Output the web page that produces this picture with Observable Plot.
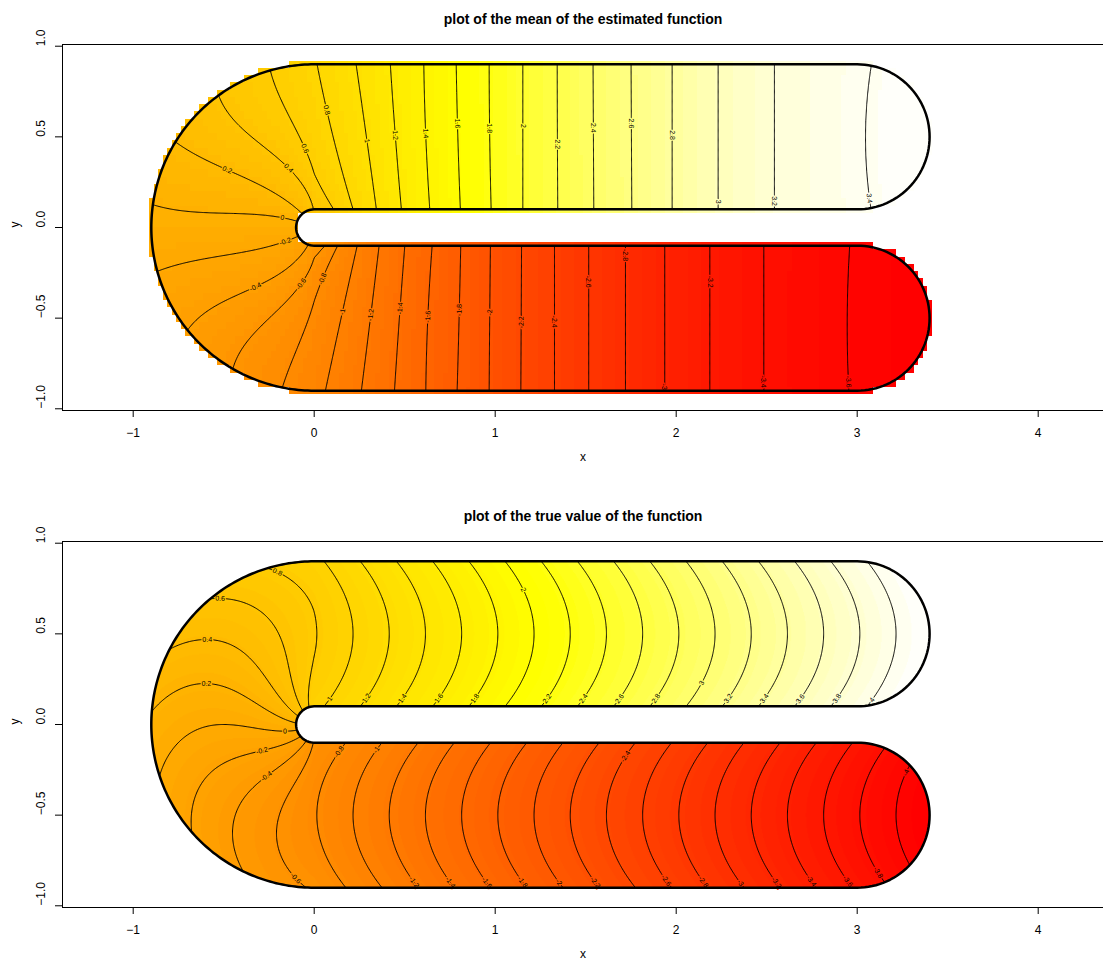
<!DOCTYPE html>
<html><head><meta charset="utf-8">
<script src="https://cdn.jsdelivr.net/npm/d3@7"></script>
<script src="https://cdn.jsdelivr.net/npm/@observablehq/plot@0.6"></script>
<style>
body{margin:0;background:#fff;}
#wrap{width:1103px;}
#wrap svg{display:block;}
</style></head><body><div id="wrap"></div>
<script>
// ---------- horseshoe domain (centre-line radius, inner radius, arm length) ----------
const R0 = 0.1, RC = 0.5, ARM = 3;
const HALF = RC - R0;
const Q = Math.PI * RC / 2;

// ---------- axis ticks ----------
const xTicks = [-1, 0, 1, 2, 3, 4];
const xTickLabels = ["\u22121", "0", "1", "2", "3", "4"];
const yTicks = [-1, -0.5, 0, 0.5, 1];
const yTickLabels = ["\u22121.0", "\u22120.5", "0.0", "0.5", "1.0"];

// ---------- estimated surface: level and along-curve position of each contour
// at the outer edge, on the centre line and at the inner edge
const estLevels = [-3.75, -3.6, -3.4, -3.2, -3.0, -2.8, -2.6, -2.4, -2.2, -2.0, -1.8, -1.6, -1.4, -1.2, -1.0, -0.8, -0.6, -0.4, -0.2, 0, 0.2, 0.4, 0.6, 0.8, 1.0, 1.2, 1.4, 1.6, 1.8, 2.0, 2.2, 2.4, 2.6, 2.8, 3.0, 3.2, 3.4, 3.49];
const estOuter  = [-4.185, -3.739, -3.269, -2.971, -2.722, -2.505, -2.302, -2.113, -1.927, -1.752, -1.575, -1.402, -1.229, -1.046, -0.847, -0.687, -0.524, -0.340, -0.136, 0.070, 0.276, 0.472, 0.649, 0.801, 1.017, 1.206, 1.391, 1.570, 1.752, 1.938, 2.128, 2.326, 2.536, 2.763, 3.017, 3.328, 3.864, 4.185];
const estCentre = [-4.185, -3.730, -3.269, -2.971, -2.722, -2.505, -2.302, -2.113, -1.929, -1.755, -1.586, -1.413, -1.256, -1.096, -0.934, -0.756, -0.576, -0.380, -0.153, 0.079, 0.305, 0.515, 0.707, 0.890, 1.074, 1.234, 1.402, 1.579, 1.755, 1.938, 2.129, 2.328, 2.538, 2.763, 3.017, 3.328, 3.831, 4.185];
const estInner  = [-4.185, -3.744, -3.269, -2.971, -2.722, -2.505, -2.302, -2.113, -1.931, -1.759, -1.595, -1.437, -1.286, -1.144, -1.023, -0.915, -0.847, -0.620, -0.249, 0.178, 0.427, 0.768, 0.893, 1.000, 1.129, 1.267, 1.424, 1.593, 1.763, 1.938, 2.131, 2.330, 2.540, 2.763, 3.017, 3.328, 3.862, 4.185];
const estContours = [-3.6, -3.4, -3.2, -3.0, -2.8, -2.6, -2.4, -2.2, -2.0, -1.8, -1.6, -1.4, -1.2, -1.0, -0.8, -0.6, -0.4, -0.2, 0, 0.2, 0.4, 0.6, 0.8, 1.0, 1.2, 1.4, 1.6, 1.8, 2.0, 2.2, 2.4, 2.6, 2.8, 3.0, 3.2, 3.4];
const estRange = [-3.75, 3.49];
const estLabLevel = [0.8, 1, 1.2, 1.4, 1.6, 1.8, 2, 2.2, 2.4, 2.6, 2.8, 3, 3.2, 3.4, 0.6, 0.4, 0.2, 0, -0.2, -0.4, -0.6, -0.8, -1, -1.2, -1.4, -1.6, -1.8, -2, -2.2, -2.4, -2.6, -2.8, -3, -3.2, -3.4, -3.6];
const estLabX = [0.068, 0.289, 0.449, 0.615, 0.790, 0.970, 1.153, 1.344, 1.543, 1.751, 1.978, 2.232, 2.543, 3.068, -0.048, -0.159, -0.481, -0.177, -0.164, -0.334, -0.088, 0.062, 0.155, 0.311, 0.473, 0.630, 0.803, 0.970, 1.144, 1.328, 1.521, 1.720, 1.935, 2.186, 2.484, 2.954];
const estLabY = [0.648, 0.477, 0.510, 0.519, 0.574, 0.547, 0.560, 0.459, 0.550, 0.574, 0.510, 0.142, 0.146, 0.161, 0.437, 0.308, 0.317, 0.045, -0.065, -0.308, -0.299, -0.289, -0.464, -0.482, -0.446, -0.492, -0.455, -0.468, -0.523, -0.519, -0.299, -0.152, -0.878, -0.299, -0.850, -0.850];

// ---------- true surface: same description ----------
const trueLevels = [-4.185, -4.0, -3.8, -3.6, -3.4, -3.2, -3.0, -2.8, -2.6, -2.4, -2.2, -2.0, -1.8, -1.6, -1.4, -1.2, -1.0, -0.8, -0.6, -0.4, -0.2, 0, 0.2, 0.4, 0.6, 0.8, 1.0, 1.2, 1.4, 1.6, 1.8, 2.0, 2.2, 2.4, 2.6, 2.8, 3.0, 3.2, 3.4, 3.6, 3.8, 4.0, 4.185];
const trueCentre = [-4.185, -4.0, -3.8, -3.6, -3.4, -3.2, -3.0, -2.8, -2.6, -2.4, -2.2, -2.0, -1.8, -1.6, -1.4, -1.2, -1.0, -0.8, -0.6, -0.4, -0.2, 0, 0.2, 0.4, 0.6, 0.8, 1.0, 1.2, 1.4, 1.6, 1.8, 2.0, 2.2, 2.4, 2.6, 2.8, 3.0, 3.2, 3.4, 3.6, 3.8, 4.0, 4.185];
const trueEdge = [-4.345, -4.16, -3.96, -3.76, -3.56, -3.36, -3.16, -2.96, -2.76, -2.56, -2.36, -2.16, -1.96, -1.76, -1.56, -1.36, -1.16, -0.96, -0.76, -0.56, -0.36, -0.16, 0.04, 0.24, 0.44, 0.64, 0.84, 1.04, 1.24, 1.44, 1.64, 1.84, 2.04, 2.24, 2.44, 2.64, 2.84, 3.04, 3.24, 3.44, 3.64, 3.84, 4.025];
const trueContours = [-4.0, -3.8, -3.6, -3.4, -3.2, -3.0, -2.8, -2.6, -2.4, -2.2, -2.0, -1.8, -1.6, -1.4, -1.2, -1.0, -0.8, -0.6, -0.4, -0.2, 0, 0.2, 0.4, 0.6, 0.8, 1.0, 1.2, 1.4, 1.6, 1.8, 2.0, 2.2, 2.4, 2.6, 2.8, 3.0, 3.2, 3.4, 3.6, 3.8, 4.0];
const trueRange = [-4.17, 4.17];
const trueLabLevel = [1, 1.2, 1.4, 1.6, 1.8, 2, 2.2, 2.4, 2.6, 2.8, 3, 3.2, 3.4, 3.6, 3.8, 4, 0.8, 0.6, 0.4, 0.2, 0, -0.2, -0.4, -0.6, -0.8, -1, -1.2, -1.4, -1.6, -1.8, -2, -2.2, -2.4, -2.6, -2.8, -3, -3.2, -3.4, -3.6, -3.8, -4];
const trueLabX = [0.081, 0.289, 0.486, 0.688, 0.886, 1.158, 1.283, 1.486, 1.683, 1.886, 2.144, 2.285, 2.484, 2.681, 2.886, 3.083, -0.208, -0.520, -0.591, -0.596, -0.162, -0.287, -0.263, -0.103, 0.136, 0.344, 0.541, 0.744, 0.947, 1.140, 1.343, 1.545, 1.720, 1.935, 2.138, 2.351, 2.548, 2.742, 2.945, 3.110, 3.276];
const trueLabY = [0.145, 0.145, 0.145, 0.145, 0.145, 0.744, 0.145, 0.145, 0.145, 0.145, 0.228, 0.145, 0.145, 0.145, 0.145, 0.136, 0.830, 0.689, 0.462, 0.219, -0.042, -0.149, -0.287, -0.849, -0.149, -0.140, -0.877, -0.877, -0.877, -0.877, -0.877, -0.877, -0.177, -0.867, -0.877, -0.877, -0.877, -0.867, -0.867, -0.820, -0.269];

// ---------- helpers ----------
function toSD(x, y) {
  if (x >= 0) return y > 0 ? [Q + x, y - RC] : [-Q - x, -RC - y];
  return [-Math.atan(y / x) * RC, Math.hypot(x, y) - RC];
}
// tOut: how far outside the outer edge a grid cell centre may lie
function inDomain(x, y, tOut = 1e-6) {
  const d = toSD(x, y)[1];
  if (d > HALF + tOut || d < -HALF - 1e-6) return false;
  if (x > ARM && (x - ARM) ** 2 + d * d > (HALF + tOut) ** 2) return false;
  return true;
}
function makeField(levels, outer, centre, inner) {
  const n = levels.length;
  const b = levels.map((_, i) => (outer[i] - inner[i]) / (2 * HALF));
  const c = levels.map((_, i) => (outer[i] + inner[i] - 2 * centre[i]) / (2 * HALF * HALF));
  const F = (s, d) => {
    let prev = centre[0] + b[0] * d + c[0] * d * d;
    if (s <= prev) return levels[0];
    for (let i = 1; i < n; i++) {
      const Si = centre[i] + b[i] * d + c[i] * d * d;
      if (s <= Si) return levels[i - 1] + (s - prev) / (Si - prev) * (levels[i] - levels[i - 1]);
      prev = Si;
    }
    return levels[n - 1];
  };
  return (x, y) => { const [s, d] = toSD(x, y); return F(s, d); };
}
function placeLabel(val, L, x, y) {
  const h = 1e-4;
  const grad = (x, y) => [(val(x + h, y) - val(x - h, y)) / (2 * h), (val(x, y + h) - val(x, y - h)) / (2 * h)];
  for (let k = 0; k < 8; k++) {
    const f = val(x, y) - L;
    const [gx, gy] = grad(x, y);
    const g2 = gx * gx + gy * gy;
    if (!(g2 > 0)) break;
    const nx = x - f * gx / g2, ny = y - f * gy / g2;
    if (Math.hypot(nx - x, ny - y) > 0.1) break;
    x = nx; y = ny;
  }
  const [gx, gy] = grad(x, y);
  let a = Math.atan2(-gx, -gy) * 180 / Math.PI;
  while (a > 90) a -= 180;
  while (a <= -90) a += 180;
  return {x, y, level: L, text: String(L), angle: a};
}
function heatColor(k) {
  if (k < 75) return `rgb(255,${Math.round(255 * k / 74)},0)`;
  const s = 0.98 - 0.04 * (k - 75);
  return `rgb(255,255,${Math.round(255 * (1 - s))})`;
}
const heat100 = t => heatColor(Math.max(0, Math.min(99, Math.floor(t * 100))));

// boundary of the domain (closed loop)
function arc(cx, cy, rad, a0, a1, n) {
  const pts = [];
  for (let i = 0; i <= n; i++) {
    const a = a0 + (a1 - a0) * i / n;
    pts.push({x: cx + rad * Math.cos(a), y: cy + rad * Math.sin(a)});
  }
  return pts;
}
const PI = Math.PI;
const boundary = [
  {x: 0, y: RC + HALF}, {x: ARM, y: RC + HALF},
  ...arc(ARM, RC, HALF, PI / 2, -PI / 2, 60),
  {x: 0, y: R0},
  ...arc(0, 0, R0, PI / 2, 3 * PI / 2, 30),
  {x: ARM, y: -R0},
  ...arc(ARM, -RC, HALF, PI / 2, -PI / 2, 60),
  {x: 0, y: -RC - HALF},
  ...arc(0, 0, RC + HALF, 3 * PI / 2, PI / 2, 160)
];

const xDomain = [-1.3906, 4.3608];
const yDomain = [-1.0094, 1.0094];
const FONT = "'Liberation Sans', Arial, Helvetica, sans-serif";

function panel(cfg) {
  const val = makeField(cfg.levels, cfg.outer, cfg.centre, cfg.inner);
  const labels = cfg.labLevel.map((L, i) => placeLabel(val, L, cfg.labX[i], cfg.labY[i]));
  const raster = cfg.coarse
    ? Plot.raster({x1: -0.9375, x2: 3.4375, y1: -0.96, y2: 0.96, width: 175, height: 48,
        fill: (x, y) => inDomain(x, y, 0.012) ? val(x, y) : NaN, imageRendering: "pixelated"})
    : Plot.raster({x1: -0.92, x2: 3.42, y1: -0.92, y2: 0.92, width: 868, height: 368,
        fill: (x, y) => inDomain(x, y) ? val(x, y) : NaN});
  const fig = Plot.plot({
    width: 1103, height: cfg.height,
    marginLeft: 62, marginRight: 0, marginTop: 44, marginBottom: cfg.marginBottom,
    x: {domain: xDomain}, y: {domain: yDomain},
    color: {type: "linear", domain: cfg.range, interpolate: heat100, clamp: true},
    style: {fontFamily: FONT, fontSize: "12px", color: "black", background: "white", overflow: "visible"},
    marks: [
      raster,
      Plot.contour({x1: -0.95, x2: 3.45, y1: -0.95, y2: 0.95, width: 880, height: 380,
        value: val, thresholds: cfg.contours, stroke: "black", strokeWidth: 1, fill: "none"}),
      Plot.text(labels, {x: "x", y: "y", text: "text", rotate: "angle", fontSize: 7,
        fill: "black", stroke: "level", strokeWidth: 2.5, paintOrder: "stroke"}),
      Plot.line(boundary, {x: "x", y: "y", stroke: "black", strokeWidth: 2.5, strokeLinejoin: "round"}),
      Plot.ruleY([yDomain[0], yDomain[1]], {stroke: "black", strokeWidth: 1}),
      Plot.ruleX([xDomain[0]], {stroke: "black", strokeWidth: 1}),
      Plot.axisX({ticks: xTicks, tickSize: 7, tickPadding: 11, label: null, fontSize: 12,
        tickFormat: d => xTickLabels[xTicks.indexOf(d)]}),
      Plot.axisY({ticks: yTicks, tickSize: 7, label: null, tickFormat: () => ""}),
      Plot.text(yTicks, {y: d => d, text: (d, i) => yTickLabels[i], frameAnchor: "left", dx: -21.5, rotate: -90, fontSize: 12}),
      Plot.text([cfg.title], {frameAnchor: "top", dy: -30, text: d => d, fontWeight: "bold", fontSize: 14}),
      Plot.text(["x"], {frameAnchor: "bottom", dy: 50, text: d => d, fontSize: 12}),
      Plot.text(["y"], {frameAnchor: "left", dx: -47, rotate: -90, text: d => d, fontSize: 12})
    ]
  });
  // clip contour lines to the domain
  const sx = fig.scale("x"), sy = fig.scale("y");
  const d = "M" + boundary.map(p => `${sx.apply(p.x)},${sy.apply(p.y)}`).join("L") + "Z";
  const ns = "http://www.w3.org/2000/svg";
  const defs = document.createElementNS(ns, "defs");
  const cp = document.createElementNS(ns, "clipPath");
  cp.setAttribute("id", cfg.clipId);
  const path = document.createElementNS(ns, "path");
  path.setAttribute("d", d);
  cp.appendChild(path); defs.appendChild(cp);
  fig.insertBefore(defs, fig.firstChild);
  fig.querySelectorAll('g[aria-label="contour"]').forEach(g => g.setAttribute("clip-path", `url(#${cfg.clipId})`));
  return fig;
}

const wrap = document.getElementById("wrap");
wrap.appendChild(panel({
  title: "plot of the mean of the estimated function",
  levels: estLevels, outer: estOuter, centre: estCentre, inner: estInner,
  contours: estContours, range: estRange,
  labLevel: estLabLevel, labX: estLabX, labY: estLabY,
  coarse: true, height: 497, marginBottom: 87, clipId: "clipEst"
}));
wrap.appendChild(panel({
  title: "plot of the true value of the function",
  levels: trueLevels, outer: trueEdge, centre: trueCentre, inner: trueEdge,
  contours: trueContours, range: trueRange,
  labLevel: trueLabLevel, labX: trueLabX, labY: trueLabY,
  coarse: false, height: 468, marginBottom: 58, clipId: "clipTrue"
}));
</script>
</body></html>
